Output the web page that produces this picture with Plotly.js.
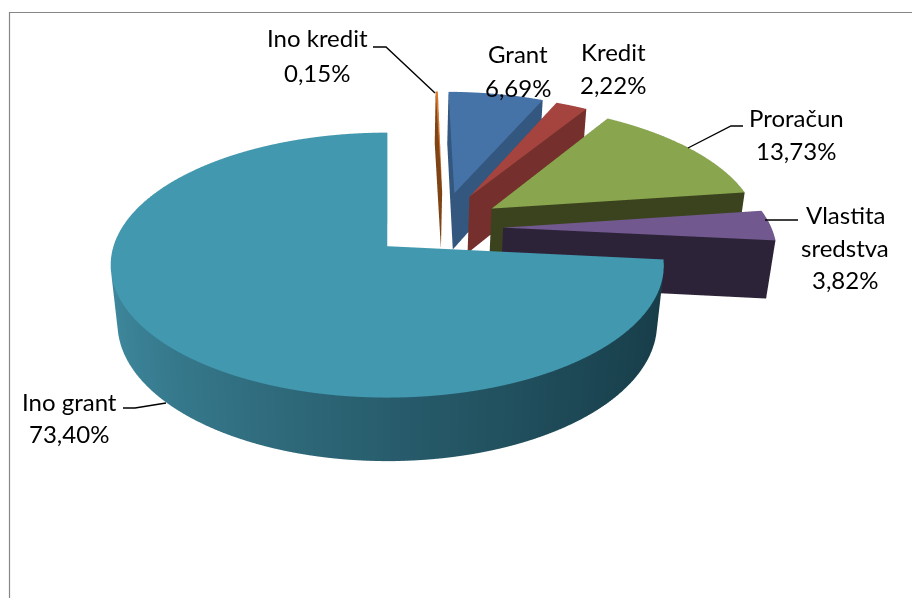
<!DOCTYPE html>
<html><head><meta charset="utf-8">
<script src="https://cdn.plot.ly/plotly-3.0.1.min.js"></script>
<style>html,body{margin:0;padding:0;background:#fff}</style></head>
<body><div id="chart" style="width:912px;height:598px"></div>
<script>
const categories = ['Ino kredit','Grant','Kredit','Proračun','Vlastita sredstva','Ino grant'];
const shares = [0.15,6.69,2.22,13.73,3.82,73.40];
const shareLabels = ['0,15%','6,69%','2,22%','13,73%','3,82%','73,40%'];
const topColors = ['#d9782b','#4572a7','#a5443f','#89a54e','#71588f','#4198af'];
const sideLight = ['#a85c20','#38597f','#8a3532','#4a5a28','#3a2d50','#3f8a9f'];
const sideDark = ['#7f4415','#34577f','#752f2c','#3a431d','#2d2338','#173c48'];
const exploded = [1,1,1,1,1,0];

const H = 0.248, K = 1/7, KZ = 0.1;
const angleOf = p => p*2*Math.PI/100;
function wedge(start, share, pull, top, light, dark){
  const a0 = angleOf(start), a1 = angleOf(start+share);
  const mid = (a0+a1)/2, ox = pull*(0.212+0.22*Math.sin(mid)), oy = pull*(0.14+0.30*Math.cos(mid));
  const steps = Math.max(2, Math.ceil(share*2));
  const x=[],y=[],z=[],i=[],j=[],k=[],c=[];
  const add=(px,py,pz,col)=>{
    const X=px+ox, Y=py+oy, w=1+K*Y-KZ*pz;   // foreshortening of far and low points
    x.push(X/w);y.push(Y/w);z.push(pz/w);c.push(col);return x.length-1;};
  const ct=add(0,0,0,top); const rim=[];
  for(let s=0;s<=steps;s++){const a=a0+(a1-a0)*s/steps; rim.push(add(Math.sin(a),Math.cos(a),0,top));}
  for(let s=0;s<steps;s++){i.push(ct);j.push(rim[s]);k.push(rim[s+1]);}
  const mix=(u)=>{const p=h=>[1,3,5].map(q=>parseInt(h.substr(q,2),16));const A=p(light),B=p(dark);
    return 'rgb('+A.map((v,n)=>Math.round(v+(B[n]-v)*u)).join(',')+')';};
  let prev=null;
  for(let s=0;s<=steps;s++){const a=a0+(a1-a0)*s/steps;const u=Math.pow((Math.sin(a)+1)/2,0.8);
    const col=mix(u);
    const t=add(Math.sin(a),Math.cos(a),0,col), b=add(Math.sin(a),Math.cos(a),-H,col);
    if(prev){i.push(prev[0],prev[1]);j.push(prev[1],b);k.push(t,t);}
    prev=[t,b];}
  if(pull) for(const a of [a0,a1]){
    const p0=add(0,0,0,dark),p1=add(Math.sin(a),Math.cos(a),0,dark),p2=add(Math.sin(a),Math.cos(a),-H,dark),p3=add(0,0,-H,dark);
    i.push(p0,p0);j.push(p1,p2);k.push(p2,p3);}
  return {type:'mesh3d',x,y,z,i,j,k,vertexcolor:c,flatshading:true,hoverinfo:'skip',
    lighting:{ambient:1,diffuse:0,specular:0,roughness:1,fresnel:0},showscale:false};
}
let start=0; const traces=[];
shares.forEach((v,n)=>{traces.push(wedge(start,v,exploded[n],topColors[n],sideLight[n],sideDark[n]));start+=v;});
const el=28.3*Math.PI/180, dist=0.8, zoom=2.93;
const ax={visible:false,showgrid:false,zeroline:false,showbackground:false,showspikes:false,autorange:false};
const textLines=[
 [categories[0],317,38],[shareLabels[0],317,72],
 [categories[1],518,54],[shareLabels[1],518,87],
 [categories[2],613,52],[shareLabels[2],613,84],
 [categories[3],796,118],[shareLabels[3],796,151],
 ['Vlastita',845,214],['sredstva',845,247],[shareLabels[4],845,279],
 [categories[5],69,401],[shareLabels[5],69,433]];
const path=pts=>'M'+pts.map(p=>(p[0]/912)+','+(1-p[1]/598)).join('L');
const leaders=[
 [[373,47],[386,47],[435,93]],
 [[743,126],[731,126],[688,148]],
 [[765,220],[798,220]],
 [[123,408],[135,408],[166,403]]];
const frame=[[9.5,598],[9.5,12.5],[912,12.5]];
const shapes=leaders.map(l=>({type:'path',xref:'paper',yref:'paper',path:path(l),line:{color:'#000',width:1.4}}))
 .concat([{type:'path',xref:'paper',yref:'paper',path:path(frame),line:{color:'#868686',width:1.2}}]);
const layout={width:912,height:598,margin:{l:0,r:0,t:0,b:0},paper_bgcolor:'#fff',showlegend:false,shapes,
 scene:{domain:{x:[0,1],y:[0,1]},aspectmode:'manual',aspectratio:{x:zoom,y:zoom,z:zoom},
  xaxis:{...ax,range:[-1.349,1.851]},yaxis:{...ax,range:[-2.007,1.193]},zaxis:{...ax,range:[-1.6,1.6]},
  camera:{projection:{type:'orthographic'},up:{x:0,y:0,z:1},center:{x:0,y:0,z:0},
   eye:{x:0,y:-dist*Math.cos(el),z:dist*Math.sin(el)}}},
 annotations:textLines.map(l=>({xref:'paper',yref:'paper',x:l[1]/912,y:1-l[2]/598,text:l[0],showarrow:false,
   xanchor:'center',yanchor:'middle',font:{family:'Lato, sans-serif',size:24,color:'#000'}}))};
Plotly.newPlot('chart',traces,layout,{displayModeBar:false});
</script></body></html>
